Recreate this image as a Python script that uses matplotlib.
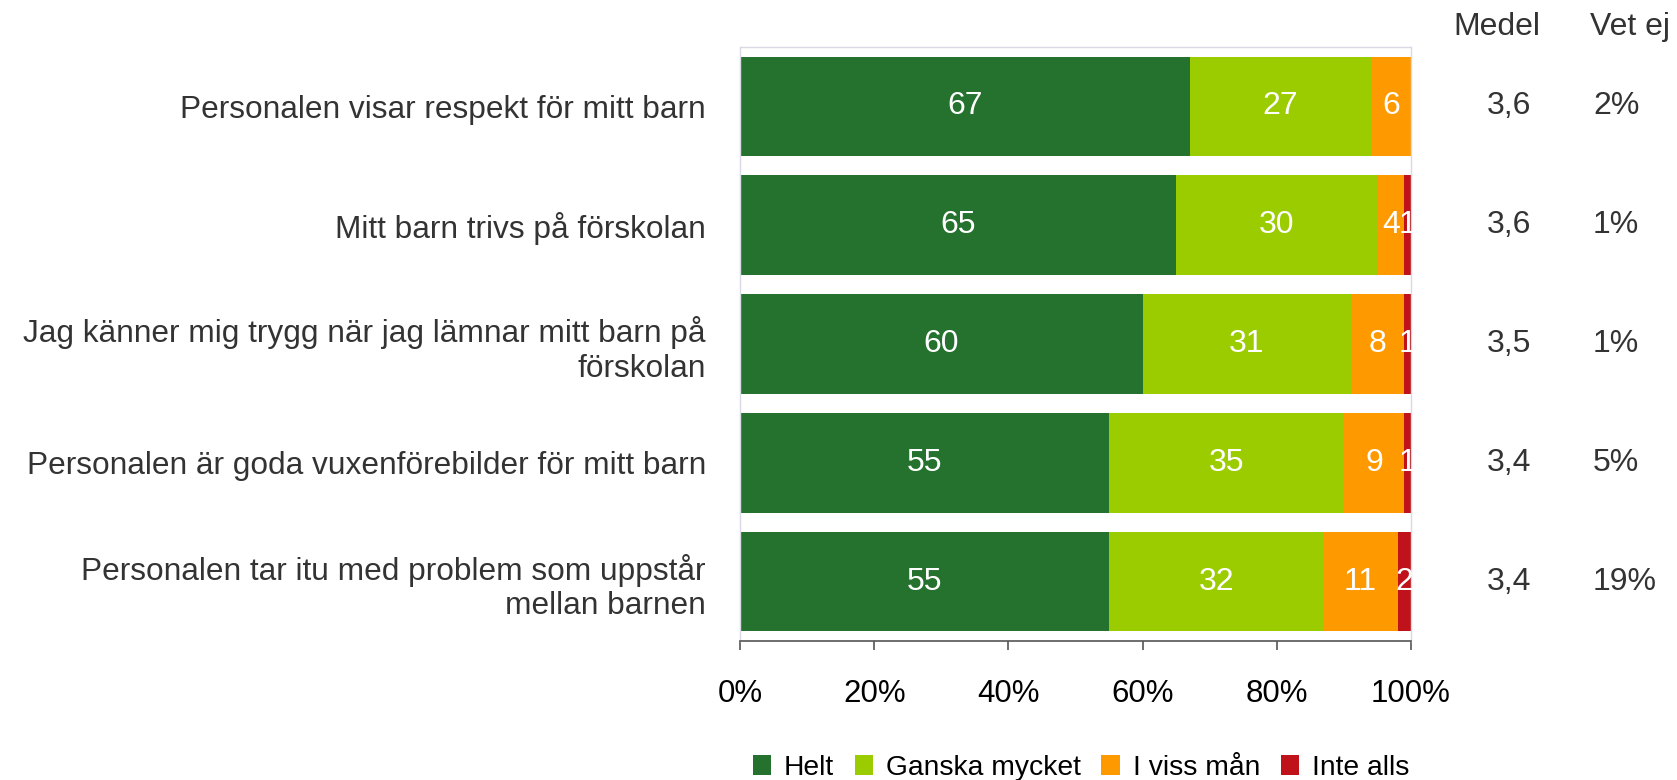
import matplotlib
matplotlib.use("Agg")
import matplotlib.pyplot as plt
from matplotlib.patches import Patch
from matplotlib.transforms import blended_transform_factory

plt.rcParams['font.family'] = ['Liberation Sans', 'DejaVu Sans']

categories = [
    "Personalen visar respekt för mitt barn",
    "Mitt barn trivs på förskolan",
    "Jag känner mig trygg när jag lämnar mitt barn på\nförskolan",
    "Personalen är goda vuxenförebilder för mitt barn",
    "Personalen tar itu med problem som uppstår\nmellan barnen",
]
series_names = ["Helt", "Ganska mycket", "I viss mån", "Inte alls"]
helt = [67, 65, 60, 55, 55]
ganska = [27, 30, 31, 35, 32]
viss = [6, 4, 8, 9, 11]
inte = [0, 1, 1, 1, 2]
medel = ["3,6", "3,6", "3,5", "3,4", "3,4"]
vet_ej = ["2%", "1%", "1%", "5%", "19%"]
xticks = [0, 20, 40, 60, 80, 100]
xtick_labels = ["0%", "20%", "40%", "60%", "80%", "100%"]

colors = ["#25722E", "#9BCC00", "#FF9900", "#C0121A"]

W, H = 1677, 780
fig = plt.figure(figsize=(W / 100, H / 100), dpi=100)
ax = fig.add_axes([740 / W, 1 - 641 / H, (1411 - 740) / W, (641 - 47) / H])

series = [helt, ganska, viss, inte]
y = list(range(len(categories)))
left = [0] * len(categories)
for vals, col in zip(series, colors):
    ax.barh(y, vals, left=left, height=0.84, color=col, edgecolor='none')
    for yi, (l, v) in enumerate(zip(left, vals)):
        if v > 0:
            ax.text(l + v / 2, yi, str(v), ha='center', va='center',
                    color='white', fontsize=23)
    left = [a + b for a, b in zip(left, vals)]

ax.set_xlim(0, 100)
ax.set_ylim(len(categories) - 0.5, -0.5)
ax.set_yticks(y)
ax.set_yticklabels(categories, fontsize=22.8, color='#333333')
ax.tick_params(axis='y', length=0, pad=24.5)
ax.set_xticks(xticks)
ax.set_xticklabels(xtick_labels, fontsize=22.5, color='black')
ax.tick_params(axis='x', length=6.5, width=1.2, color='#555555', pad=20.5, direction='out')
for s in ['left', 'top', 'right']:
    ax.spines[s].set_color('#DADAE6')
    ax.spines[s].set_linewidth(1)
ax.spines['bottom'].set_color('#555555')
ax.spines['bottom'].set_linewidth(1.2)

trans = blended_transform_factory(fig.transFigure, ax.transData)
fig.text(1497 / W, 1 - 27 / H, "Medel", ha='center', va='center', fontsize=23, color='#333333')
fig.text(1590 / W, 1 - 27 / H, "Vet ej", ha='left', va='center', fontsize=23, color='#333333')
for yi in y:
    ax.text(1509 / W, yi, medel[yi], ha='center', va='center', fontsize=23,
            color='#333333', transform=trans)
    ax.text(1593 / W, yi, vet_ej[yi], ha='left', va='center', fontsize=23,
            color='#333333', transform=trans)

handles = [Patch(facecolor=c, edgecolor='none') for c in colors]
fig.legend(handles, series_names, loc='center', bbox_to_anchor=(1081 / W, 1 - 768 / H),
           ncol=4, frameon=False, fontsize=20.3, handlelength=0.65, handleheight=0.68,
           handletextpad=0.47, columnspacing=0.72, borderpad=0)

fig.savefig("out.png", dpi=100)
